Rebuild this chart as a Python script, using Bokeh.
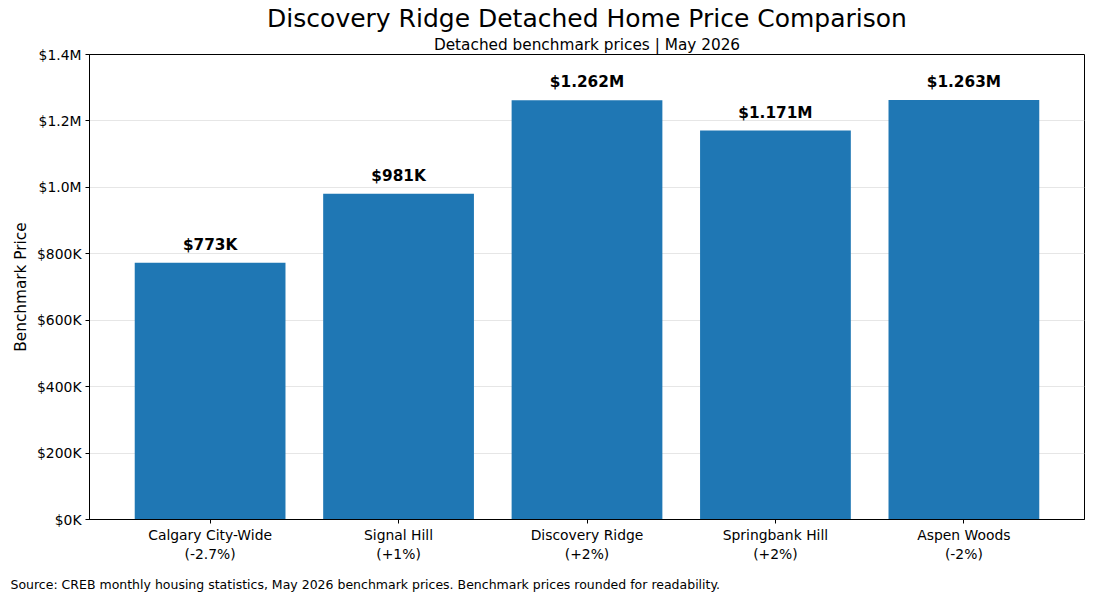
from bokeh.plotting import figure
from bokeh.embed import file_html
from bokeh.resources import INLINE
from bokeh.models import ColumnDataSource, FixedTicker, Title
from bokeh.core.properties import value

FONT = "DejaVu Sans"
bar_blue = '#1f77b4'

# data
areas = ['Calgary City-Wide', 'Signal Hill', 'Discovery Ridge', 'Springbank Hill', 'Aspen Woods']
changes = ['-2.7%', '+1%', '+2%', '+2%', '-2%']
prices = [773000, 981000, 1262000, 1171000, 1263000]
price_labels = ['$773K', '$981K', '$1.262M', '$1.171M', '$1.263M']
y_ticks = [0, 200000, 400000, 600000, 800000, 1000000, 1200000, 1400000]
y_tick_labels = ['$0K', '$200K', '$400K', '$600K', '$800K', '$1.0M', '$1.2M', '$1.4M']

xs = list(range(len(areas)))
source = ColumnDataSource(dict(x=xs, price=prices, label=price_labels))

p = figure(width=1094, height=603, output_backend="svg", toolbar_location=None,
           x_range=(-0.64, 4.64), y_range=(0, 1400000),
           min_border_left=89, min_border_right=10, min_border_top=54, min_border_bottom=84)

p.vbar(x='x', top='price', width=0.8, bottom=0, source=source,
       fill_color=bar_blue, line_color=None)
p.text(x='x', y='price', text='label', source=source, text_align='center',
       text_baseline='bottom', y_offset=-9, text_font=value(FONT),
       text_font_size='15.3px', text_font_style='bold', text_color='black')

# frame / grid
p.outline_line_color = 'black'
p.outline_line_alpha = 1
p.xgrid.grid_line_color = None
p.ygrid.grid_line_color = '#e6e6e6'
p.ygrid.ticker = FixedTicker(ticks=y_ticks)
p.background_fill_color = 'white'

# axes
p.xaxis.ticker = FixedTicker(ticks=xs)
p.xaxis.major_label_overrides = {i: f'{a}\n({c})' for i, a, c in zip(xs, areas, changes)}
p.yaxis.ticker = FixedTicker(ticks=y_ticks)
p.yaxis.major_label_overrides = dict(zip(y_ticks, y_tick_labels))
p.yaxis.axis_label = 'Benchmark Price'
for ax in (p.xaxis, p.yaxis):
    ax.axis_line_color = 'black'
    ax.major_tick_line_color = 'black'
    ax.major_tick_out = 4
    ax.major_tick_in = 0
    ax.minor_tick_line_color = None
    ax.major_label_text_font = FONT
    ax.major_label_text_font_size = '13.9px'
    ax.major_label_text_color = 'black'
    ax.major_label_standoff = 4
p.xaxis.major_label_standoff = 3
p.yaxis.axis_label_text_font = FONT
p.yaxis.axis_label_text_font_size = '15.3px'
p.yaxis.axis_label_text_font_style = 'normal'
p.yaxis.axis_label_text_color = 'black'
p.yaxis.axis_label_standoff = 4

# titles (subtitle first so it sits next to the frame)
p.add_layout(Title(text='Detached benchmark prices | May 2026', align='center',
                   text_font=FONT, text_font_size='15.3px', text_font_style='normal',
                   text_color='black', standoff=2), 'above')
p.add_layout(Title(text='Discovery Ridge Detached Home Price Comparison', align='center',
                   text_font=FONT, text_font_size='25px', text_font_style='normal',
                   text_color='black', standoff=0), 'above')

# source note under the x axis
p.add_layout(Title(text='Source: CREB monthly housing statistics, May 2026 benchmark prices. '
                        'Benchmark prices rounded for readability.',
                   align='left', offset=-79,
                   text_font=FONT, text_font_size='12.5px', text_font_style='normal',
                   text_color='black', standoff=20), 'below')

open("out.html", "w").write(file_html(p, INLINE))
